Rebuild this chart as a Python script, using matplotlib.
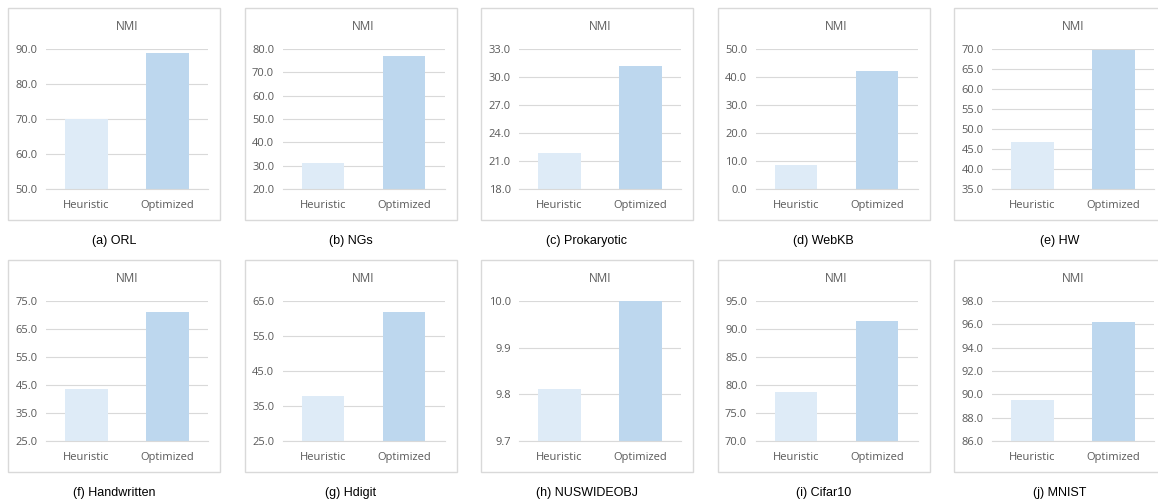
import numpy as np
from matplotlib import pyplot as plt
from matplotlib.patches import Rectangle
from matplotlib.ticker import FormatStrFormatter

captions = ['(a) ORL', '(b) NGs', '(c) Prokaryotic', '(d) WebKB', '(e) HW',
            '(f) Handwritten', '(g) Hdigit', '(h) NUSWIDEOBJ', '(i) Cifar10',
            '(j) MNIST']
methods = ['Heuristic', 'Optimized']
heuristic = [70.0, 31.3, 21.9, 8.4, 46.8, 43.6, 38.0, 9.811, 78.75, 89.5]
optimized = [89.0, 77.1, 31.2, 42.3, 69.8, 71.1, 62.0, 9.999, 91.4, 96.2]
y_min = [50.0, 20.0, 18.0, 0.0, 35.0, 25.0, 25.0, 9.7, 70.0, 86.0]
y_max = [90.0, 80.0, 33.0, 50.0, 70.0, 75.0, 65.0, 10.0, 95.0, 98.0]
y_step = [10.0, 10.0, 3.0, 10.0, 5.0, 10.0, 10.0, 0.1, 5.0, 2.0]

W, H = 1158, 500
fig = plt.figure(figsize=(W / 100, H / 100), dpi=100)

tick_col = '#595959'
line_col = '#d9d9d9'
bar_cols = ['#deebf7', '#bdd7ee']


def fx(px):
    return px / W


def fy(py):
    return 1 - py / H


for i in range(10):
    row, col = divmod(i, 5)
    left = 8 + 236.5 * col
    top = 8 + 252 * row
    # panel frame
    fig.add_artist(Rectangle((fx(left), fy(top + 212)), fx(212), 212 / H,
                             transform=fig.transFigure, fill=False,
                             edgecolor=line_col, linewidth=1.0))
    ax = fig.add_axes([fx(left + 38), fy(top + 181), fx(162), 140 / H])
    ax.bar([0, 1], [heuristic[i], optimized[i]], width=0.52,
           color=bar_cols, zorder=2)
    ax.set_xlim(-0.5, 1.5)
    ax.set_ylim(y_min[i], y_max[i])
    ax.set_yticks(np.arange(y_min[i], y_max[i] + y_step[i] / 2, y_step[i]))
    ax.yaxis.set_major_formatter(FormatStrFormatter('%.1f'))
    ax.set_xticks([0, 1], methods)
    ax.tick_params(length=0, labelsize=8, labelcolor=tick_col)
    ax.tick_params(axis='y', pad=6)
    ax.tick_params(axis='x', pad=8)
    for lab in ax.get_xticklabels() + ax.get_yticklabels():
        lab.set_fontfamily('Open Sans')
    ax.grid(axis='y', color=line_col, linewidth=0.8, zorder=0)
    ax.set_axisbelow(True)
    for s in ['top', 'right', 'left']:
        ax.spines[s].set_visible(False)
    ax.spines['bottom'].set_color(line_col)
    ax.spines['bottom'].set_zorder(3)
    ax.set_facecolor('none')
    fig.text(fx(left + 119), fy(top + 18), 'NMI', ha='center', va='center',
             fontsize=8.5, color=tick_col, family='Open Sans')
    fig.text(fx(left + 106), fy(top + 233), captions[i], ha='center',
             va='center', fontsize=9, color='black', family='Liberation Sans')

fig.savefig('out.png', dpi=100)
